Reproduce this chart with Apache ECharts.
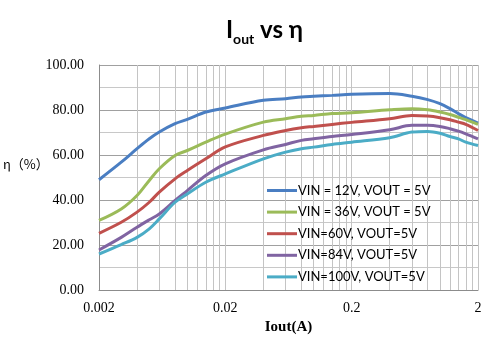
<!DOCTYPE html>
<html>
<head>
<meta charset="utf-8">
<script src="https://cdn.jsdelivr.net/npm/echarts@6/dist/echarts.min.js"></script>
<style>html,body{margin:0;padding:0;background:#fff}#c{width:498px;height:354px}</style>
</head>
<body>
<div id="c"></div>
<script>
// Output current (A)
const iout = [0.002, 0.003, 0.004, 0.005, 0.006, 0.008, 0.01, 0.014, 0.02, 0.04, 0.06, 0.08, 0.1, 0.14, 0.2, 0.4, 0.6, 0.8, 1.0, 1.2, 1.4, 1.6, 2.0];
// Efficiency (%)
const eff12  = [49.0, 56.8, 62.8, 67.2, 70.2, 73.9, 75.8, 79.1, 80.9, 84.3, 85.0, 85.8, 86.1, 86.5, 87.0, 87.3, 86.1, 84.6, 82.8, 80.6, 78.4, 76.6, 74.2];
const eff36  = [30.9, 36.0, 42.0, 48.7, 53.9, 59.8, 62.0, 65.7, 69.3, 74.6, 76.1, 77.2, 77.6, 78.4, 78.8, 80.1, 80.6, 80.1, 79.1, 78.0, 76.8, 75.7, 73.6];
const eff60  = [25.2, 30.1, 34.6, 39.0, 43.5, 49.4, 53.1, 58.3, 63.6, 68.7, 70.9, 72.1, 72.7, 73.6, 74.5, 76.1, 77.6, 77.3, 76.6, 75.7, 74.6, 73.6, 70.9];
const eff84  = [17.8, 23.4, 27.9, 31.2, 33.8, 39.8, 44.2, 50.9, 56.1, 62.3, 64.7, 66.5, 67.2, 68.2, 69.1, 71.2, 73.2, 73.2, 72.7, 71.7, 70.6, 69.4, 67.2];
const eff100 = [16.0, 20.2, 23.4, 27.2, 31.6, 39.0, 42.7, 47.9, 51.6, 58.3, 61.3, 62.8, 63.5, 64.7, 65.7, 67.7, 70.2, 70.5, 69.7, 68.2, 67.2, 65.7, 64.2];
const seriesNames = ['VIN = 12V, VOUT = 5V', 'VIN = 36V, VOUT = 5V', 'VIN=60V, VOUT=5V', 'VIN=84V, VOUT=5V', 'VIN=100V, VOUT=5V'];
const seriesColors = ['#4A7EC2', '#9BBB59', '#C0504D', '#8064A2', '#4BACC6'];
const xLabelValues = [0.002, 0.02, 0.2, 2];
const xGridValues = [0.002,0.004,0.006,0.008,0.01,0.012,0.014,0.016,0.018,
                     0.02,0.04,0.06,0.08,0.1,0.12,0.14,0.16,0.18,
                     0.2,0.4,0.6,0.8,1.0,1.2,1.4,1.6,1.8,2];
const yAxisTitle = 'η（%）';

const allEff = [eff12, eff36, eff60, eff84, eff100];
const chart = echarts.init(document.getElementById('c'), null, {renderer: 'canvas'});
chart.setOption({
  animation: false,
  backgroundColor: '#ffffff',
  title: {
    text: '{a|I}{b|out}{a| vs η}',
    left: 221, top: 13,
    textStyle: {
      rich: {
        a: {fontFamily: 'Lato', fontWeight: 'bold', fontSize: 24, color: '#000', verticalAlign: 'bottom'},
        b: {fontFamily: 'Lato', fontWeight: 'bold', fontSize: 14, color: '#000', verticalAlign: 'bottom', padding: [0, 0, -4, 0]}
      }
    }
  },
  graphic: [{
    type: 'text', left: 3, top: 158,
    style: {text: yAxisTitle, font: '13px "Noto Sans CJK SC"', fill: '#000'}
  }],
  grid: {left: 99, right: 20, top: 65, bottom: 64},
  legend: {
    orient: 'vertical',
    left: 262, top: 178,
    itemWidth: 30, itemHeight: 3, itemGap: 6.6,
    icon: 'rect',
    textStyle: {fontFamily: 'Lato', fontSize: 13, color: '#000', padding: [0, 0, 0, -4], lineHeight: 15},
    data: seriesNames
  },
  xAxis: {
    type: 'log', logBase: 10, min: 0.002, max: 2,
    name: 'Iout(A)', nameLocation: 'middle', nameGap: 30,
    nameTextStyle: {fontFamily: 'Liberation Serif', fontWeight: 'bold', fontSize: 15, color: '#000'},
    axisLine: {show: true, lineStyle: {color: '#8c8c8c', width: 1}},
    axisTick: {show: false, customValues: xGridValues},
    axisLabel: {customValues: xLabelValues, fontFamily: 'Liberation Serif', fontSize: 14, color: '#000', margin: 11,
      formatter: v => String(+v.toPrecision(6))},
    splitLine: {show: true, lineStyle: {color: '#c4c4c4', width: 1}}
  },
  yAxis: {
    type: 'value', min: 0, max: 100, interval: 10,
    axisLine: {show: true, lineStyle: {color: '#8c8c8c', width: 1}},
    axisTick: {show: false},
    axisLabel: {fontFamily: 'Liberation Serif', fontSize: 14, color: '#000', margin: 15,
      formatter: v => (v % 20 === 0 ? v.toFixed(2) : '')},
    splitLine: {show: true, lineStyle: {color: ['#a0a0a0', '#c8c8c8'], width: 1}}
  },
  series: seriesNames.map((n, k) => ({
    name: n, type: 'line', smooth: 0.35, showSymbol: false, symbol: 'none',
    lineStyle: {width: 3, color: seriesColors[k]},
    itemStyle: {color: seriesColors[k]},
    data: iout.map((x, i) => [x, allEff[k][i]])
  }))
});
</script>
</body>
</html>
